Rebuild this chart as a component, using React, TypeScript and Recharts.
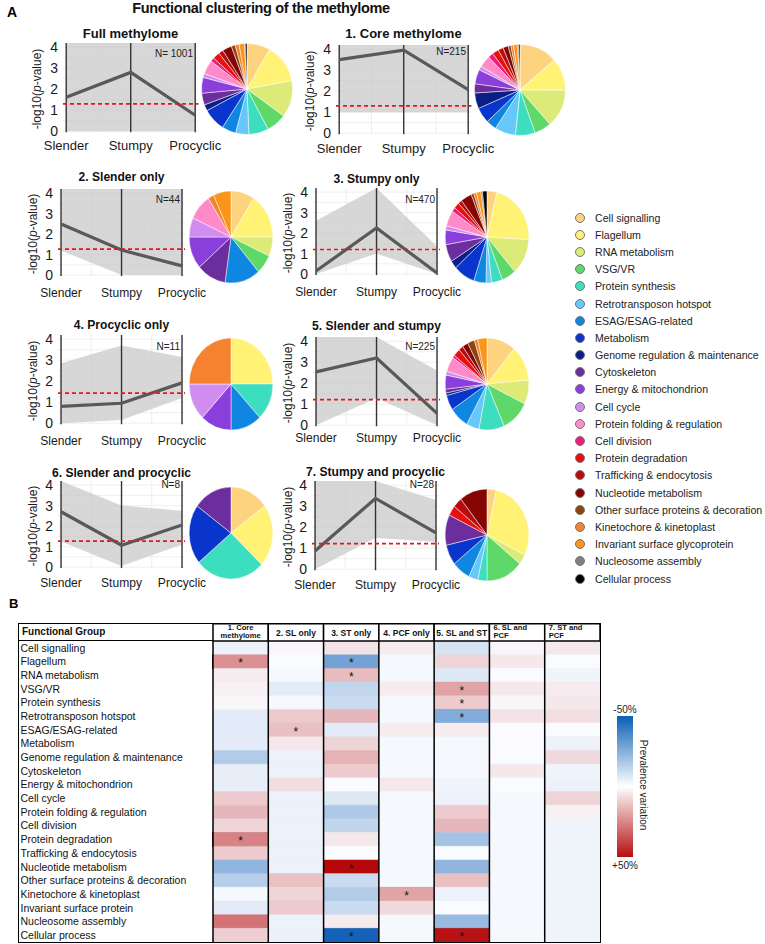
import {
  ComposedChart,
  Line,
  Area,
  XAxis,
  YAxis,
  CartesianGrid,
  ReferenceLine,
  ReferenceArea,
  PieChart,
  Pie,
  Cell,
  BarChart,
  Bar,
} from "recharts";

const FONT = "'Liberation Sans', Arial, sans-serif";

// ---------- panel A: line profiles ----------
const STAGES = ["Slender", "Stumpy", "Procyclic"];
const PANEL_TITLES = [
  "Full methylome",
  "1. Core methylome",
  "2. Slender only",
  "3. Stumpy only",
  "4. Procyclic only",
  "5. Slender and stumpy",
  "6. Slender and procyclic",
  "7. Stumpy and procyclic",
];
const PANEL_N = ["N= 1001", "N=215", "N=44", "N=470", "N=11", "N=225", "N=8", "N=28"];
const LOG_P = [
  [1.62, 2.8, 0.76],
  [3.5, 3.95, 2.08],
  [2.49, 1.22, 0.45],
  [0.15, 2.25, 0.05],
  [0.8, 0.95, 1.92],
  [2.54, 3.2, 0.56],
  [2.7, 1.07, 2.05],
  [0.87, 3.37, 1.73],
];
const BAND_LOW = [
  [0, 0, 0],
  [1.0, 1.0, 1.0],
  [1.2, 0, 0],
  [0, 1.0, 0],
  [0, 0.15, 1.2],
  [0, 1.3, 0],
  [1.25, 0.05, 1.1],
  [0, 1.5, 1.3],
];
const BAND_HIGH = [
  [4.2, 4.2, 4.2],
  [4.2, 4.2, 4.2],
  [4.2, 4.2, 4.2],
  [2.6, 4.2, 1.35],
  [2.85, 3.7, 3.15],
  [4.2, 4.2, 2.6],
  [4.2, 3.0, 2.75],
  [4.2, 4.2, 3.3],
];
const THRESHOLD = [1.3, 1.3, 1.27, 1.2, 1.43, 1.22, 1.27, 1.22];
const Y_TICKS = [0, 1, 2, 3, 4];
const GRID_Y = [0, 0.5, 1, 1.5, 2, 2.5, 3, 3.5, 4];

// functional groups (legend order) and their colours
const GROUPS = [
  "Cell signalling",
  "Flagellum",
  "RNA metabolism",
  "VSG/VR",
  "Protein synthesis",
  "Retrotransposon hotspot",
  "ESAG/ESAG-related",
  "Metabolism",
  "Genome regulation & maintenance",
  "Cytoskeleton",
  "Energy & mitochondrion",
  "Cell cycle",
  "Protein folding & regulation",
  "Cell division",
  "Protein degradation",
  "Trafficking & endocytosis",
  "Nucleotide metabolism",
  "Other surface proteins & decoration",
  "Kinetochore & kinetoplast",
  "Invariant surface glycoprotein",
  "Nucleosome assembly",
  "Cellular process",
];
const GROUP_COLORS = [
  "#fdd380", "#fff275", "#dceb78", "#5fd86a", "#3dddc0", "#66c8fa",
  "#0f86e0", "#0a35cc", "#0a1f85", "#6c2d9e", "#8a3fdc", "#d18cf0",
  "#ff8ac8", "#f01c7c", "#e8100f", "#b80d0d", "#870404", "#8b4513",
  "#f5822e", "#fa9518", "#808080", "#000000",
];

// pie slice sizes per panel (gene counts / shares, legend order)
const PIE_SHARES = [
  [83, 138, 131, 72, 70, 47, 50, 81, 22, 42, 56, 14, 50, 14, 25, 17, 33, 14, 14, 19, 3, 6],
  [29, 25, 29, 13, 15, 16, 8, 12, 12, 7, 11, 3, 9, 4, 5, 4, 4, 2, 2, 3, 1, 1],
  [4, 7, 3, 3, 0, 0, 6, 0, 0, 5, 5, 3, 4, 0, 0, 0, 0, 0, 1, 3, 0, 0],
  [18, 104, 59, 26, 20, 10, 22, 39, 13, 29, 24, 7, 26, 7, 10, 7, 20, 5, 5, 8, 3, 8],
  [0, 25, 0, 0, 13, 0, 12, 0, 0, 0, 12, 13, 0, 0, 0, 0, 0, 0, 25, 0, 0, 0],
  [25, 28, 19, 25, 22, 11, 17, 12, 2, 3, 11, 3, 12, 2, 6, 4, 5, 6, 3, 8, 0, 0],
  [15, 22, 0, 0, 27, 0, 0, 21, 0, 15, 0, 0, 0, 0, 0, 0, 0, 0, 0, 0, 0, 0],
  [1, 8, 1, 4, 1, 1, 2, 2, 0, 3, 0, 0, 0, 0, 1, 1, 3, 0, 0, 0, 0, 0],
];

// layout of each panel (pixel anchors)
const PANEL_BOX = [
  { l: 66, r: 195, y4: 47, y0: 131, ty: 33, ny: 53, xy: 145, lx: 37, px: 247, py: 89, s: 1 },
  { l: 339, r: 468, y4: 49, y0: 133, ty: 33, ny: 51, xy: 148, lx: 310, px: 520, py: 89.5, s: 1 },
  { l: 61, r: 182, y4: 193, y0: 275, ty: 177, ny: 199, xy: 293, lx: 33, px: 231, py: 236.5, s: 0.93 },
  { l: 316, r: 437, y4: 192, y0: 274, ty: 179, ny: 199, xy: 292, lx: 288, px: 487, py: 236.5, s: 0.93 },
  { l: 61, r: 182, y4: 339, y0: 423, ty: 325, ny: 346, xy: 440, lx: 33, px: 231, py: 383.5, s: 0.93 },
  { l: 316, r: 437, y4: 341, y0: 425, ty: 326, ny: 346, xy: 437, lx: 288, px: 487, py: 383.5, s: 0.93 },
  { l: 61, r: 182, y4: 485, y0: 567, ty: 473, ny: 484, xy: 583, lx: 33, px: 231, py: 533, s: 0.93 },
  { l: 315, r: 436, y4: 485, y0: 569, ty: 472, ny: 484, xy: 584, lx: 288, px: 487, py: 535, s: 0.93 },
];

// ---------- panel B: heatmap ----------
const HEAT_COLS = [
  "1. Core\nmethylome",
  "2. SL only",
  "3. ST only",
  "4. PCF only",
  "5. SL and ST",
  "6. SL and\nPCF",
  "7. ST and\nPCF",
];
const HEAT_GROUPS = [
  "Cell signalling",
  "Flagellum",
  "RNA metabolism",
  "VSG/VR",
  "Protein synthesis",
  "Retrotransposon hotspot",
  "ESAG/ESAG-related",
  "Metabolism",
  "Genome regulation & maintenance",
  "Cytoskeleton",
  "Energy & mitochondrion",
  "Cell cycle",
  "Protein folding & regulation",
  "Cell division",
  "Protein degradation",
  "Trafficking & endocytosis",
  "Nucleotide metabolism",
  "Other surface proteins & decoration",
  "Kinetochore & kinetoplast",
  "Invariant surface protein",
  "Nucleosome assembly",
  "Cellular process",
];
// prevalence variation (%), one list per column, rows in HEAT_GROUPS order
const HEAT = [
  [-3, 22, 3, 2, 1, -5, -5, -5, -15, -4, -4, 10, 14, 8, 25, 10, -22, -14, -1, -5, 28, 9],
  [1, 0, -1, -5, -1, 10, 12, 4, -3, -3, 6, -3, -3, -3, -3, -3, -3, 12, 8, 10, -3, -3],
  [5, -28, 13, -12, -10, 14, -5, 8, 15, 10, 0, -6, -16, -12, 4, 0, 50, -10, -15, -10, 3, -48],
  [3, -1, -1, 3, -1, -1, 3, -1, -1, -1, 4, -1, -1, -1, -1, -1, -1, -1, 18, 7, -1, -1],
  [-8, 8, -6, 18, 10, -25, 3, -1, -1, -1, -2, -3, 10, 14, -18, 0, -22, 12, -3, 0, -20, 48],
  [1, 4, 0, 4, 1, 5, 0, 0, 0, 4, 0, -1, -1, -1, -1, -1, -1, -1, -1, -1, -1, -1],
  [4, 0, -2, 3, 4, 6, 0, -3, 7, -2, -3, 8, 2, -2, -2, -2, -2, -2, -2, -2, -2, -2],
];
// significant cells: [column, row]
const SIGNIFICANT = [
  [0, 1], [0, 14], [1, 6], [2, 1], [2, 2], [2, 16], [2, 21], [3, 18],
  [4, 3], [4, 4], [4, 5], [4, 21],
];

const HEAT_W = 582;
const LABEL_W = 195;
const HEAD_H = 18;
const COL_W = (HEAT_W - LABEL_W) / HEAT_COLS.length;

function heatColor(v: number) {
  const t = Math.min(Math.abs(v) / 50, 1);
  const end = v < 0 ? [11, 92, 182] : [180, 8, 10];
  const base = [250, 251, 254];
  const c = base.map((b, i) => Math.round(b + (end[i] - b) * t));
  return `rgb(${c.join(",")})`;
}

function LinePanel({ p }: { p: number }) {
  const b = PANEL_BOX[p];
  const ux = (b.r - b.l) / 2;
  const uy = (b.y0 - b.y4) / 4;
  const plotL = b.l - 0.05 * ux;
  const plotR = b.r + 0.05 * ux;
  const plotT = b.y0 - 4.2 * uy;
  const plotB = b.y0 + 0.05 * uy;
  const axisW = 30;
  const axisH = 34;
  const padR = 34;
  const padT = 10;
  const width = plotR - plotL + axisW + padR;
  const height = plotB - plotT + padT + axisH;
  const tickGap = b.xy - 4.5 * b.s - plotB;
  const data = STAGES.map((s, i) => ({
    idx: i,
    stage: s,
    value: LOG_P[p][i],
    band: [BAND_LOW[p][i], BAND_HIGH[p][i]],
  }));
  return (
    <>
      <div style={{ position: "absolute", left: plotL - axisW, top: plotT - padT }}>
        <ComposedChart width={width} height={height} data={data} margin={{ top: padT, right: padR, bottom: 0, left: 0 }}>
          <CartesianGrid horizontalValues={GRID_Y} verticalValues={[0.5, 1.5]} stroke="#ebebeb" strokeWidth={0.8} />
          <XAxis
            type="number"
            dataKey="idx"
            domain={[-0.05, 2.05]}
            ticks={[0, 1, 2]}
            interval={0}
            allowDataOverflow
            tickFormatter={(v: number) => STAGES[v]}
            tick={{ fontSize: 13 * b.s, fill: "#1a1a1a", fontFamily: FONT }}
            tickSize={0}
            tickMargin={tickGap}
            axisLine={false}
            height={axisH}
          />
          <YAxis
            type="number"
            domain={[-0.05, 4.2]}
            ticks={Y_TICKS}
            interval={0}
            allowDataOverflow
            width={axisW}
            tick={{ fontSize: 14, fill: "#1a1a1a", fontFamily: FONT }}
            tickSize={0}
            tickMargin={5}
            axisLine={false}
          />
          <Area type="linear" dataKey="band" fill="#c8c8c8" fillOpacity={0.72} stroke="none" isAnimationActive={false} />
          {[0, 1, 2].map((i) => (
            <ReferenceLine key={i} x={i} stroke="#333" strokeWidth={1.4} />
          ))}
          <Line type="linear" dataKey="value" stroke="#595959" strokeWidth={3.2} dot={false} isAnimationActive={false} />
          <ReferenceLine y={THRESHOLD[p]} stroke="#e8141e" strokeDasharray="4 3" strokeWidth={1.7} />
        </ComposedChart>
      </div>
      <div
        style={{
          position: "absolute",
          left: (b.l + b.r) / 2,
          top: b.ty,
          transform: "translate(-50%, -50%)",
          fontSize: 13 * b.s,
          fontWeight: "bold",
          whiteSpace: "nowrap",
          color: "#111",
        }}
      >
        {PANEL_TITLES[p]}
      </div>
      <div
        style={{
          position: "absolute",
          right: 765 - (b.r - 2),
          top: b.ny,
          transform: "translateY(-50%)",
          fontSize: 10,
          whiteSpace: "nowrap",
          color: "#222",
        }}
      >
        {PANEL_N[p]}
      </div>
      <div
        style={{
          position: "absolute",
          left: b.lx,
          top: (b.y4 + b.y0) / 2,
          transform: "translate(-50%, -50%) rotate(-90deg)",
          fontSize: 12,
          whiteSpace: "nowrap",
          color: "#1a1a1a",
        }}
      >
        -log10(<i>p</i>-value)
      </div>
    </>
  );
}

function PiePanel({ p }: { p: number }) {
  const b = PANEL_BOX[p];
  const slices = PIE_SHARES[p]
    .map((v, i) => ({ name: GROUPS[i], v, color: GROUP_COLORS[i] }))
    .filter((d) => d.v > 0);
  const r = p < 2 ? 45.5 : 46;
  const sx = p < 2 ? 1 : 0.91;
  return (
    <div
      style={{
        position: "absolute",
        left: b.px - 50,
        top: b.py - 50,
        width: 100,
        height: 100,
        transform: `scaleX(${sx})`,
      }}
    >
      <PieChart width={100} height={100} margin={{ top: 0, right: 0, bottom: 0, left: 0 }}>
        <Pie
          data={slices}
          dataKey="v"
          nameKey="name"
          cx={50}
          cy={50}
          outerRadius={r}
          startAngle={90}
          endAngle={-270}
          stroke="#ffffff"
          strokeWidth={0.5}
          isAnimationActive={false}
        >
          {slices.map((d) => (
            <Cell key={d.name} fill={d.color} />
          ))}
        </Pie>
      </PieChart>
    </div>
  );
}

function GroupLegend() {
  return (
    <div style={{ position: "absolute", left: 575, top: 209 }}>
      {GROUPS.map((g, i) => (
        <div key={g} style={{ display: "flex", alignItems: "center", height: 17.2 }}>
          <span
            style={{
              width: 10,
              height: 10,
              borderRadius: "50%",
              background: GROUP_COLORS[i],
              border: "0.6px solid #777",
              boxSizing: "border-box",
              marginRight: 10,
              flex: "none",
            }}
          />
          <span style={{ fontSize: 10.6, color: "#222", whiteSpace: "nowrap" }}>{g}</span>
        </div>
      ))}
    </div>
  );
}

const HeadTick = (props: any) => {
  const { x, payload } = props;
  const ci = Math.floor(payload.value);
  const lines = HEAT_COLS[ci].split("\n");
  const left = x - COL_W / 2;
  const alignLeft = lines.length > 1 && ci > 0;
  return (
    <g>
      <rect x={left} y={0.75} width={COL_W} height={HEAD_H - 0.75} fill="#fff" stroke="#000" strokeWidth={1.5} />
      {lines.map((l, i) => (
        <text
          key={i}
          x={alignLeft ? left + 4 : x}
          y={lines.length > 1 ? 4.6 + i * 7.6 : 9.7}
          dy="0.35em"
          textAnchor={alignLeft ? "start" : "middle"}
          fontSize={lines.length > 1 ? 7.6 : 8.5}
          fontWeight="bold"
          fontFamily={FONT}
          fill="#111"
        >
          {l}
        </text>
      ))}
    </g>
  );
};

const GroupTick = (props: any) => {
  const { y, payload } = props;
  return (
    <text x={2.5} y={y} dy="0.36em" fontSize={10.5} fontFamily={FONT} fill="#111" textAnchor="start">
      {payload.value}
    </text>
  );
};

function Heatmap() {
  const rows = HEAT_GROUPS.map((g) => {
    const r: any = { group: g };
    HEAT_COLS.forEach((_, ci) => (r[`w${ci}`] = 1));
    return r;
  });
  return (
    <>
      <div style={{ position: "absolute", left: 18, top: 623 }}>
        <BarChart
          width={HEAT_W}
          height={321}
          data={rows}
          layout="vertical"
          barCategoryGap={0}
          margin={{ top: 0, right: 0, bottom: 2, left: 0 }}
        >
          <XAxis
            type="number"
            orientation="top"
            domain={[0, 7]}
            allowDataOverflow
            ticks={HEAT_COLS.map((_, i) => i + 0.5)}
            interval={0}
            height={HEAD_H}
            tick={<HeadTick />}
            tickLine={false}
            axisLine={false}
          />
          <YAxis
            type="category"
            dataKey="group"
            width={LABEL_W}
            interval={0}
            tick={<GroupTick />}
            tickLine={false}
            axisLine={false}
          />
          {HEAT_COLS.map((c, ci) => (
            <Bar key={c} dataKey={`w${ci}`} stackId="heat" isAnimationActive={false}>
              {HEAT_GROUPS.map((g, ri) => (
                <Cell key={g} fill={heatColor(HEAT[ci][ri])} stroke={heatColor(HEAT[ci][ri])} strokeWidth={0.4} />
              ))}
            </Bar>
          ))}
          {HEAT_COLS.map((_, k) => (
            <ReferenceLine key={k} x={k} stroke="#000" strokeWidth={1.5} />
          ))}
          {SIGNIFICANT.map(([ci, ri]) => (
            <ReferenceArea
              key={`${ci}-${ri}`}
              x1={ci}
              x2={ci + 1}
              y1={HEAT_GROUPS[ri]}
              y2={HEAT_GROUPS[ri]}
              fill="none"
              fillOpacity={0}
              stroke="#000"
              strokeWidth={1.6}
              label={{ value: "*", position: "center", fontSize: 12, fill: "#111", dy: 1.5 }}
            />
          ))}
        </BarChart>
      </div>
      <div
        style={{
          position: "absolute",
          left: 18,
          top: 623,
          width: LABEL_W,
          height: HEAD_H,
          borderBottom: "1.5px solid #000",
          boxSizing: "border-box",
          fontSize: 10,
          fontWeight: "bold",
          paddingLeft: 4,
          lineHeight: "18px",
          color: "#111",
        }}
      >
        Functional Group
      </div>
      <div
        style={{
          position: "absolute",
          left: 17.5,
          top: 622.5,
          width: HEAT_W + 1,
          height: 320,
          border: "1.5px solid #000",
          boxSizing: "border-box",
          pointerEvents: "none",
        }}
      />
      {/* colour bar */}
      <div
        style={{
          position: "absolute",
          left: 617,
          top: 716,
          width: 16,
          height: 141,
          background: "linear-gradient(to bottom, #0b5fb5 0%, #ffffff 50%, #b50f10 100%)",
        }}
      />
      <div style={{ position: "absolute", left: 625, top: 709, transform: "translate(-50%, -50%)", fontSize: 10, color: "#222" }}>
        -50%
      </div>
      <div style={{ position: "absolute", left: 625, top: 865, transform: "translate(-50%, -50%)", fontSize: 10, color: "#222" }}>
        +50%
      </div>
      <div
        style={{
          position: "absolute",
          left: 643,
          top: 785,
          transform: "translate(-50%, -50%) rotate(90deg)",
          fontSize: 10,
          whiteSpace: "nowrap",
          color: "#222",
        }}
      >
        Prevalence variation
      </div>
    </>
  );
}

export default function App() {
  return (
    <div
      style={{
        position: "absolute",
        left: 0,
        top: 0,
        width: 765,
        height: 944,
        background: "#fff",
        fontFamily: FONT,
        overflow: "hidden",
      }}
    >
      <div style={{ position: "absolute", left: 7, top: 4, fontSize: 14, fontWeight: "bold" }}>A</div>
      <div
        style={{
          position: "absolute",
          left: 261,
          top: 8,
          transform: "translate(-50%, -50%)",
          fontSize: 14.5,
          fontWeight: "bold",
          letterSpacing: -0.35,
          whiteSpace: "nowrap",
          color: "#111",
        }}
      >
        Functional clustering of the methylome
      </div>
      {PANEL_TITLES.map((_, p) => (
        <LinePanel key={`l${p}`} p={p} />
      ))}
      {PANEL_TITLES.map((_, p) => (
        <PiePanel key={`p${p}`} p={p} />
      ))}
      <GroupLegend />
      <div style={{ position: "absolute", left: 9, top: 596, fontSize: 13, fontWeight: "bold" }}>B</div>
      <Heatmap />
    </div>
  );
}
